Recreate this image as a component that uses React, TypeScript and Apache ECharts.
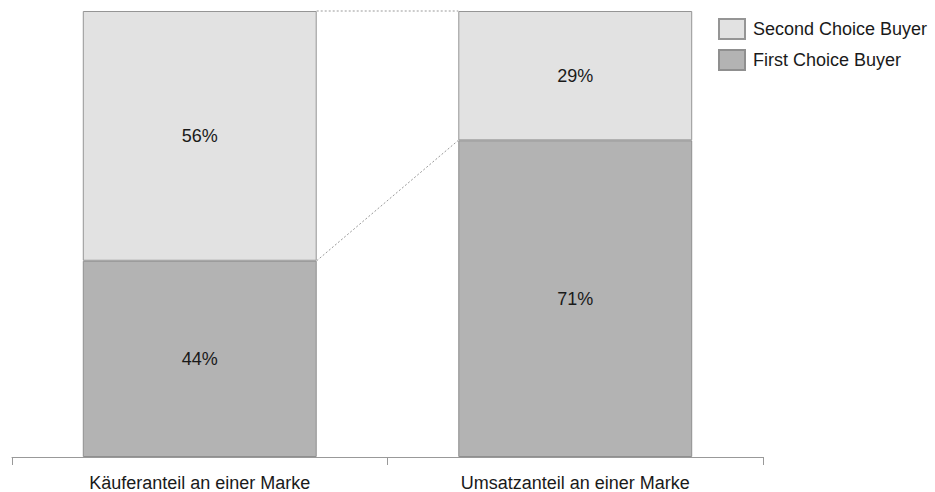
import React, { useEffect, useRef } from "react";
import * as echarts from "echarts";

const categories = ["Käuferanteil an einer Marke", "Umsatzanteil an einer Marke"];
const firstChoice = [44, 71];
const secondChoice = [56, 29];
const seriesNames = ["First Choice Buyer", "Second Choice Buyer"];

const BAR_RATIO = 0.623;

export default function App() {
  const ref = useRef<HTMLDivElement>(null);
  useEffect(() => {
    document.body.style.margin = "0";
    const chart = echarts.init(ref.current!, null, { renderer: "svg" });
    const totals = firstChoice.map((v, i) => v + secondChoice[i]);
    const connectors = [
      [firstChoice[0], firstChoice[1]],
      [totals[0], totals[1]],
    ];
    chart.setOption({
      animation: false,
      textStyle: { fontFamily: "Liberation Sans, Arial, sans-serif" },
      grid: { left: 12, right: 172, top: 11, bottom: 34 },
      legend: {
        orient: "vertical",
        left: 713,
        top: 13,
        itemWidth: 26,
        itemHeight: 20,
        itemGap: 9,
        icon: "rect",
        data: [seriesNames[1], seriesNames[0]],
        textStyle: { fontSize: 18, color: "#1a1a1a", padding: [0, 0, 0, 3] },
      },
      xAxis: {
        type: "category",
        data: categories,
        axisLine: { lineStyle: { color: "#999", width: 1 } },
        axisTick: { show: true, length: 8, lineStyle: { color: "#999" } },
        axisLabel: { fontSize: 18, color: "#1a1a1a", margin: 17 },
      },
      yAxis: { type: "value", min: 0, max: 100, show: false },
      series: [
        {
          name: seriesNames[0],
          type: "bar",
          stack: "total",
          barWidth: BAR_RATIO * 100 + "%",
          data: firstChoice,
          itemStyle: { color: "#b3b3b3", borderColor: "#8f8f8f", borderWidth: 1 },
          label: { show: true, position: "inside", formatter: "{c}%", fontSize: 18, color: "#1a1a1a" },
        },
        {
          name: seriesNames[1],
          type: "bar",
          stack: "total",
          barWidth: BAR_RATIO * 100 + "%",
          data: secondChoice,
          itemStyle: { color: "#e2e2e2", borderColor: "#959595", borderWidth: 1 },
          label: { show: true, position: "inside", formatter: "{c}%", fontSize: 18, color: "#1a1a1a" },
        },
        {
          type: "custom",
          silent: true,
          z: 1,
          data: connectors,
          renderItem: (params: any, api: any) => {
            const y1 = api.value(0);
            const y2 = api.value(1);
            const p0 = api.coord([0, y1]);
            const p1 = api.coord([1, y2]);
            const band = api.size([1, 0])[0];
            const half = (band * BAR_RATIO) / 2;
            return {
              type: "line",
              shape: { x1: p0[0] + half, y1: p0[1], x2: p1[0] - half, y2: p1[1] },
              style: { stroke: "#999", lineWidth: 1, lineDash: [2, 2] },
            };
          },
        },
      ],
    });
    return () => chart.dispose();
  }, []);
  return <div ref={ref} style={{ width: 935, height: 492 }} />;
}
